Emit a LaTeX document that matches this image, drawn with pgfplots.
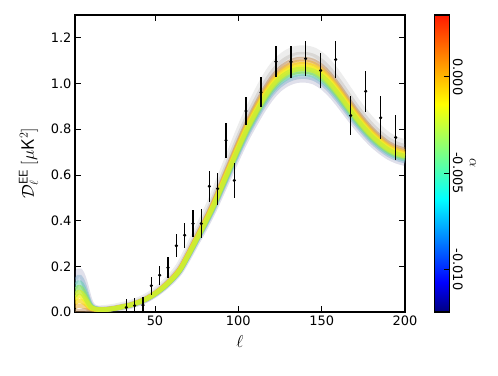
\documentclass[border=0pt]{standalone}
\usepackage{fontspec}
\setmainfont{DejaVu Sans}
\usepackage{pgfplots}
\usepackage{pgfplotstable}
\pgfplotsset{compat=1.18}

% band colours, top (alpha high) to bottom (alpha low)
\definecolor{bRed}{rgb}{0.75,0.55,0.35}
\definecolor{bOrange}{rgb}{0.92,0.68,0.20}
\definecolor{bAmber}{rgb}{0.98,0.84,0.10}
\definecolor{bYellow}{rgb}{0.96,0.94,0.15}
\definecolor{bLime}{rgb}{0.78,0.93,0.20}
\definecolor{bGreen}{rgb}{0.55,0.88,0.40}
\definecolor{bTeal}{rgb}{0.40,0.80,0.70}
\definecolor{bCyan}{rgb}{0.50,0.68,0.80}

\pgfplotsset{
  colormap={mpljet}{rgb(0cm)=(0,0,0.5); rgb(10cm)=(0,0,1); rgb(38cm)=(0,1,1);
    rgb(70cm)=(1,1,0); rgb(100cm)=(1,0.1,0)}
}

% theory band: centre D and spread S (per unit step in alpha)
\pgfplotstableread{
l D S
2 0.060 -0.050
3 0.070 -0.055
4 0.075 -0.060
5 0.075 -0.060
6 0.072 -0.055
7 0.065 -0.048
8 0.055 -0.040
9 0.044 -0.030
10 0.033 -0.020
11 0.024 -0.012
12 0.018 -0.007
14 0.013 -0.003
16 0.011 -0.001
18 0.010 0.0
22 0.012 0.0003
26 0.016 0.0005
30 0.022 0.0007
35 0.030 0.0009
40 0.042 0.0012
45 0.058 0.0017
50 0.080 0.0023
55 0.108 0.0031
60 0.142 0.0041
65 0.185 0.0054
70 0.250 0.0072
75 0.320 0.0093
80 0.390 0.0113
85 0.465 0.0135
90 0.550 0.0160
95 0.635 0.0184
100 0.720 0.0209
105 0.800 0.0232
110 0.870 0.0252
115 0.935 0.0271
120 0.990 0.0287
125 1.030 0.0299
130 1.055 0.0306
135 1.068 0.0310
140 1.070 0.0310
145 1.062 0.0308
150 1.040 0.0302
155 1.005 0.0291
160 0.960 0.0278
165 0.910 0.0264
170 0.860 0.0249
175 0.815 0.0236
180 0.775 0.0225
185 0.742 0.0215
190 0.715 0.0207
195 0.697 0.0202
200 0.686 0.0199
}\theory

% binned EE band powers
\pgfplotstableread{
l v e
32.8 0.020 0.035
37.8 0.028 0.035
42.8 0.030 0.036
47.8 0.115 0.040
52.8 0.161 0.042
57.8 0.194 0.047
62.8 0.290 0.050
67.8 0.336 0.055
72.8 0.387 0.058
77.8 0.387 0.063
82.6 0.550 0.068
87.6 0.540 0.070
92.6 0.752 0.076
97.6 0.576 0.078
104.6 0.880 0.063
113.6 0.962 0.066
122.6 1.096 0.068
131.6 1.095 0.071
140.4 1.109 0.075
149.4 1.057 0.077
158.4 1.105 0.081
167.4 0.860 0.084
176.4 0.966 0.090
185.4 0.850 0.094
194.4 0.764 0.098
}\planck

% one member of the family: step, colour, opacity, width
\newcommand{\band}[4]{%
  \addplot[no markers, smooth, line width=#4, draw=#2, opacity=#3]
    table[x=l, y expr={\thisrow{D}+#1*\thisrow{S}}] {\theory};}

\begin{document}
\begin{tikzpicture}
\path[use as bounding box] (0,0) rectangle (498bp,376bp);
\begin{axis}[
  at={(75bp,64bp)}, anchor=south west,
  scale only axis, width=330bp, height=297bp,
  xmin=2, xmax=200, ymin=0, ymax=1.3,
  xtick={50,100,150,200},
  ytick={0,0.2,0.4,0.6,0.8,1.0,1.2},
  yticklabel style={/pgf/number format/.cd, fixed, fixed zerofill, precision=1},
  /pgf/number format/assume math mode=true,
  tick label style={font=\fontsize{13}{15}\selectfont},
  label style={font=\fontsize{18}{20}\selectfont},
  xlabel={$\ell$}, xlabel shift=3bp,
  ylabel={$\mathcal{D}_\ell^{\mathsf{EE}}\;[\mu\mathsf{K}^2]$}, ylabel shift=6bp,
  axis line style={line width=1.2bp},
  tick style={black, line width=0.8bp},
  major tick length=6bp, tick align=inside,
  colormap name=mpljet,
  point meta min=-0.0122, point meta max=0.0032,
  colorbar,
  colorbar style={
    at={(parent axis.north east)}, anchor=north west, xshift=21bp,
    width=15bp,
    scaled y ticks=false,
    ytick={-0.01,-0.005,0},
    yticklabels={-0.010,-0.005,0.000},
    ytick pos=right, ytick align=inside, major tick length=6bp,
    tick style={black, line width=0.8bp},
    axis line style={line width=1.2bp},
    yticklabel style={rotate=-90, anchor=south, font=\fontsize{13}{15}\selectfont},
  },
]
% grey halo
\band{2.5}{gray}{0.14}{9bp}
\band{1.8}{gray!85!brown}{0.2}{6bp}
\band{-1.7}{gray!80!blue}{0.2}{6bp}
% coloured family
\band{1.2}{bRed}{0.5}{4.5bp}
\band{-1.3}{bCyan}{0.45}{4.5bp}
\band{0.8}{bOrange}{0.55}{4.5bp}
\band{-0.9}{bTeal}{0.55}{4.5bp}
\band{0.45}{bAmber}{0.7}{4.5bp}
\band{-0.55}{bGreen}{0.7}{4.5bp}
\band{0.1}{bYellow}{0.8}{4.5bp}
\band{-0.2}{bLime}{0.8}{4.5bp}

\addplot[black, only marks, mark=*, mark size=1.4bp,
  error bars/.cd, y dir=both, y explicit, error mark=none,
  error bar style={line width=1.2bp}]
  table[x=l, y=v, y error=e] {\planck};
\end{axis}
\node[rotate=-90, font=\fontsize{15}{17}\selectfont] at (473bp,213bp) {$\alpha$};
\end{tikzpicture}
\end{document}
